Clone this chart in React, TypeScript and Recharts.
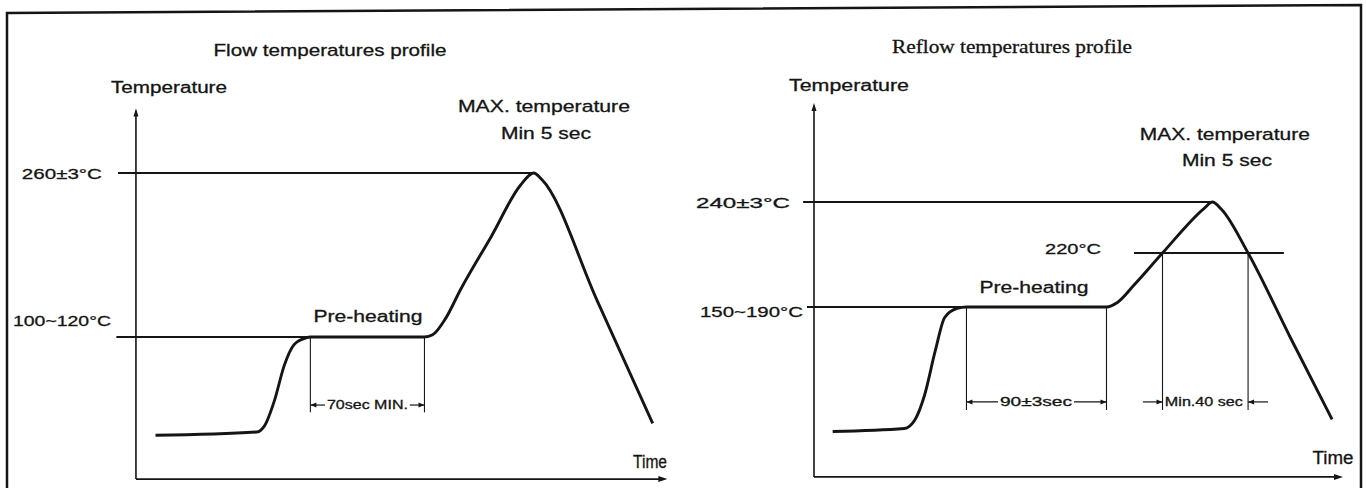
import React from 'react';
import { ComposedChart, Line, XAxis, YAxis, ReferenceLine, ReferenceDot } from 'recharts';

const INK = '#151515';
const SANS = '"Liberation Sans", Arial, Helvetica, sans-serif';
const SERIF = '"Liberation Serif", "Times New Roman", serif';

// ---- Flow profile: time (s) vs temperature (°C) ----
const FLOW_TIME = [12, 74, 79, 85, 91, 97, 104, 107, 177, 182, 190, 199, 218, 236, 244, 249, 283, 317];
const FLOW_TEMP = [20, 23, 29, 52, 84, 103, 109, 110, 110, 112, 127, 153, 202, 249, 260, 254, 143, 31];
const FLOW_PEAK = 260;
const FLOW_PREHEAT = 110;
const FLOW_WINDOW = [107, 177];

// ---- Reflow profile ----
const REFLOW_TIME = [12, 58, 65, 71, 78, 84, 92, 98, 188, 195, 206, 224, 251, 256, 262, 279, 306, 333];
const REFLOW_TEMP = [87, 89, 95, 111, 141, 163, 169, 170, 170, 173, 185, 206, 236, 240, 235, 206, 150, 95];
const REFLOW_PEAK = 240;
const REFLOW_LIQUIDUS = 206;
const REFLOW_PREHEAT = 170;
const REFLOW_WINDOW = [98, 188];
const REFLOW_LIQ_WINDOW = [224, 279];

// ---- Texts ----
const TITLES = ['Flow temperatures profile', 'Reflow temperatures profile'];
const Y_TITLE = 'Temperature';
const X_TITLE = 'Time';
const FLOW_LABELS = ['260±3°C', '100~120°C', 'Pre-heating', '70sec MIN.'];
const REFLOW_LABELS = ['240±3°C', '220°C', '150~190°C', 'Pre-heating', '90±3sec', 'Min.40 sec'];
const MAX_LABELS = ['MAX. temperature', 'Min 5 sec'];

const toPts = (ts: number[], vs: number[]) => ts.map((t, i) => ({ t, temp: vs[i] }));
const flowCurve = toPts(FLOW_TIME, FLOW_TEMP);
const reflowCurve = toPts(REFLOW_TIME, REFLOW_TEMP);

function arrowShape(dir: 'up' | 'right' | 'left', len = 9, half = 3.5) {
  return (p: any) => {
    const { cx, cy } = p;
    let d = '';
    if (dir === 'up') d = `M${cx},${cy} L${cx - half},${cy + len} L${cx + half},${cy + len} Z`;
    else if (dir === 'right') d = `M${cx},${cy} L${cx - len},${cy - half} L${cx - len},${cy + half} Z`;
    else d = `M${cx},${cy} L${cx + len},${cy - half} L${cx + len},${cy + half} Z`;
    return <path d={d} fill={INK} stroke="none" />;
  };
}

function textShape(text: string, width: number, size: number, anchor: 'start' | 'middle' | 'end' = 'middle') {
  return (p: any) => (
    <text
      x={p.cx}
      y={p.cy}
      textAnchor={anchor}
      dominantBaseline="central"
      fontFamily={SANS}
      fontSize={size}
      fill={INK}
      stroke={INK}
      strokeWidth={0.3}
      textLength={width}
      lengthAdjust="spacingAndGlyphs"
    >
      {text}
    </text>
  );
}

type Seg = { a: [number, number]; b: [number, number]; w: number };
type Arrow = { t: number; T: number; dir: 'up' | 'right' | 'left'; len?: number; half?: number };
type Txt = { t: number; T: number; text: string; w: number; size: number; anchor?: 'start' | 'middle' | 'end' };

type PanelCfg = {
  xDomain: [number, number];
  yDomain: [number, number];
  curve: { t: number; temp: number }[];
  segs: Seg[];
  arrows: Arrow[];
  texts: Txt[];
};

function Panel({ cfg }: { cfg: PanelCfg }) {
  return (
    <ComposedChart width={683} height={488} margin={{ top: 0, right: 0, bottom: 0, left: 0 }}>
      <XAxis type="number" dataKey="t" domain={cfg.xDomain} hide allowDataOverflow />
      <YAxis type="number" dataKey="temp" domain={cfg.yDomain} hide allowDataOverflow />
      {cfg.segs.map((s, i) => (
        <ReferenceLine
          key={'s' + i}
          segment={[{ x: s.a[0], y: s.a[1] }, { x: s.b[0], y: s.b[1] }]}
          stroke={INK}
          strokeWidth={s.w}
          ifOverflow="visible"
        />
      ))}
      <Line
        data={cfg.curve}
        dataKey="temp"
        type="monotone"
        stroke={INK}
        strokeWidth={2.9}
        dot={false}
        activeDot={false}
        isAnimationActive={false}
      />
      {cfg.arrows.map((a, i) => (
        <ReferenceDot key={'a' + i} x={a.t} y={a.T} r={1} ifOverflow="visible" shape={arrowShape(a.dir, a.len, a.half)} />
      ))}
      {cfg.texts.map((x, i) => (
        <ReferenceDot key={'t' + i} x={x.t} y={x.T} r={1} ifOverflow="visible" shape={textShape(x.text, x.w, x.size, x.anchor)} />
      ))}
    </ComposedChart>
  );
}

const flowPeakT = FLOW_TIME[FLOW_TEMP.indexOf(FLOW_PEAK)];
const flowCfg: PanelCfg = {
  xDomain: [-83.4, 335.6],
  yDomain: [-28.2, 418.3],
  curve: flowCurve,
  segs: [
    { a: [0, -20], b: [0, 317], w: 1.6 },
    { a: [0, -20], b: [324, -20], w: 1.8 },
    { a: [-11, FLOW_PEAK], b: [flowPeakT, FLOW_PEAK], w: 2 },
    { a: [-12, FLOW_PREHEAT], b: [FLOW_WINDOW[1], FLOW_PREHEAT], w: 2 },
    { a: [FLOW_WINDOW[0], FLOW_PREHEAT], b: [FLOW_WINDOW[0], 41], w: 1.1 },
    { a: [FLOW_WINDOW[1], FLOW_PREHEAT], b: [FLOW_WINDOW[1], 41], w: 1.1 },
    { a: [FLOW_WINDOW[0], 47.7], b: [116, 47.7], w: 1.2 },
    { a: [168, 47.7], b: [FLOW_WINDOW[1], 47.7], w: 1.2 },
  ],
  arrows: [
    { t: 0, T: 319, dir: 'up', len: 8, half: 2.5 },
    { t: 326, T: -20, dir: 'right', len: 9, half: 3 },
    { t: FLOW_WINDOW[0], T: 47.7, dir: 'left', len: 6, half: 2.5 },
    { t: FLOW_WINDOW[1], T: 47.7, dir: 'right', len: 6, half: 2.5 },
  ],
  texts: [
    { t: -20.9, T: 260, text: FLOW_LABELS[0], w: 80, size: 15, anchor: 'end' },
    { t: -15.3, T: 125.5, text: FLOW_LABELS[1], w: 98, size: 15, anchor: 'end' },
    { t: 142.3, T: 128.3, text: FLOW_LABELS[2], w: 109, size: 16 },
    { t: 142, T: 47.7, text: FLOW_LABELS[3], w: 81, size: 12 },
    { t: 250.3, T: 320.4, text: MAX_LABELS[0], w: 172, size: 17 },
    { t: 251.5, T: 296.6, text: MAX_LABELS[1], w: 90, size: 17 },
  ],
};

const reflowPeakT = REFLOW_TIME[REFLOW_TEMP.indexOf(REFLOW_PEAK)];
const reflowCfg: PanelCfg = {
  xDomain: [-84.2, 354.8],
  yDomain: [49.3, 374.7],
  curve: reflowCurve,
  segs: [
    { a: [0, 56.7], b: [0, 304], w: 1.6 },
    { a: [0, 56.7], b: [338, 56.7], w: 1.8 },
    { a: [-7, REFLOW_PEAK], b: [reflowPeakT, REFLOW_PEAK], w: 2 },
    { a: [205.7, REFLOW_LIQUIDUS], b: [302, REFLOW_LIQUIDUS], w: 2 },
    { a: [-4.5, REFLOW_PREHEAT], b: [REFLOW_WINDOW[1], REFLOW_PREHEAT], w: 2 },
    { a: [REFLOW_WINDOW[0], REFLOW_PREHEAT], b: [REFLOW_WINDOW[0], 101.3], w: 1.1 },
    { a: [REFLOW_WINDOW[1], REFLOW_PREHEAT], b: [REFLOW_WINDOW[1], 101.3], w: 1.1 },
    { a: [REFLOW_LIQ_WINDOW[0], REFLOW_LIQUIDUS], b: [REFLOW_LIQ_WINDOW[0], 101.3], w: 1.1 },
    { a: [REFLOW_LIQ_WINDOW[1], REFLOW_LIQUIDUS], b: [REFLOW_LIQ_WINDOW[1], 101.3], w: 1.1 },
    { a: [REFLOW_WINDOW[0], 106.7], b: [118.3, 106.7], w: 1.2 },
    { a: [167.1, 106.7], b: [REFLOW_WINDOW[1], 106.7], w: 1.2 },
    { a: [211.4, 106.7], b: [REFLOW_LIQ_WINDOW[0], 106.7], w: 1.2 },
    { a: [REFLOW_LIQ_WINDOW[1], 106.7], b: [291.8, 106.7], w: 1.2 },
  ],
  arrows: [
    { t: 0, T: 306, dir: 'up', len: 8, half: 2.5 },
    { t: 340, T: 56.7, dir: 'right', len: 9, half: 3 },
    { t: REFLOW_WINDOW[0], T: 106.7, dir: 'left', len: 6, half: 2.5 },
    { t: REFLOW_WINDOW[1], T: 106.7, dir: 'right', len: 6, half: 2.5 },
    { t: REFLOW_LIQ_WINDOW[0], T: 106.7, dir: 'right', len: 6, half: 2.5 },
    { t: REFLOW_LIQ_WINDOW[1], T: 106.7, dir: 'left', len: 6, half: 2.5 },
  ],
  texts: [
    { t: -15.4, T: 240, text: REFLOW_LABELS[0], w: 94, size: 15, anchor: 'end' },
    { t: 166.5, T: 209.3, text: REFLOW_LABELS[1], w: 56, size: 15 },
    { t: -7.1, T: 167, text: REFLOW_LABELS[2], w: 103, size: 15, anchor: 'end' },
    { t: 141.4, T: 182.7, text: REFLOW_LABELS[3], w: 109, size: 16 },
    { t: 142.7, T: 106.7, text: REFLOW_LABELS[4], w: 72, size: 12 },
    { t: 250.6, T: 106.7, text: REFLOW_LABELS[5], w: 78, size: 12 },
    { t: 264.1, T: 284.7, text: MAX_LABELS[0], w: 170, size: 17 },
    { t: 265.4, T: 268, text: MAX_LABELS[1], w: 90, size: 17 },
  ],
};

const titleStyle = { stroke: INK, strokeWidth: 0.3 };

export default function App() {
  return (
    <div style={{ position: 'absolute', left: 0, top: 0, width: 1366, height: 488, background: '#fff', overflow: 'hidden' }}>
      <div style={{ position: 'absolute', left: 0, top: 0 }}>
        <Panel cfg={flowCfg} />
      </div>
      <div style={{ position: 'absolute', left: 683, top: 0 }}>
        <Panel cfg={reflowCfg} />
      </div>
      <svg width={1366} height={488} style={{ position: 'absolute', left: 0, top: 0, pointerEvents: 'none' }}>
        <polyline points="7,490 7,13 1361,5 1361,490" fill="none" stroke={INK} strokeWidth={2.5} />
        <text x={330} y={50} textAnchor="middle" dominantBaseline="central" fontFamily={SANS} fontSize={17} fill={INK} {...titleStyle} textLength={233} lengthAdjust="spacingAndGlyphs">{TITLES[0]}</text>
        <text x={1012} y={47} textAnchor="middle" dominantBaseline="central" fontFamily={SERIF} fontSize={18} fill={INK} {...titleStyle} textLength={240} lengthAdjust="spacingAndGlyphs">{TITLES[1]}</text>
        <text x={169} y={87} textAnchor="middle" dominantBaseline="central" fontFamily={SANS} fontSize={16} fill={INK} {...titleStyle} textLength={116} lengthAdjust="spacingAndGlyphs">{Y_TITLE}</text>
        <text x={849} y={85} textAnchor="middle" dominantBaseline="central" fontFamily={SANS} fontSize={16} fill={INK} {...titleStyle} textLength={120} lengthAdjust="spacingAndGlyphs">{Y_TITLE}</text>
        <text x={650} y={462} textAnchor="middle" dominantBaseline="central" fontFamily={SANS} fontSize={18} fill={INK} {...titleStyle} textLength={34} lengthAdjust="spacingAndGlyphs">{X_TITLE}</text>
        <text x={1333} y={458} textAnchor="middle" dominantBaseline="central" fontFamily={SANS} fontSize={18} fill={INK} {...titleStyle} textLength={41} lengthAdjust="spacingAndGlyphs">{X_TITLE}</text>
      </svg>
    </div>
  );
}
